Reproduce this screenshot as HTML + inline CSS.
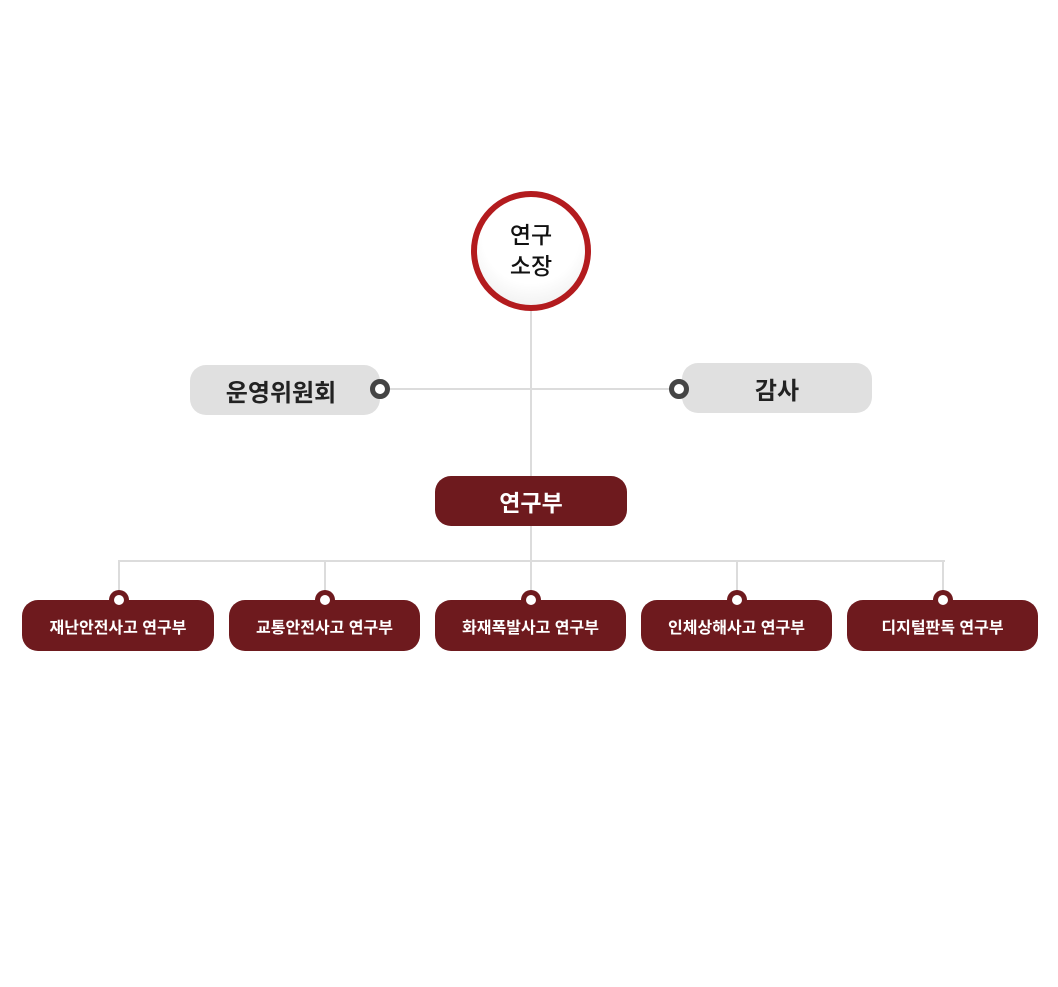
<!DOCTYPE html>
<html><head><meta charset="utf-8"><style>
html,body{margin:0;padding:0;background:#fff;}
body{width:1058px;height:987px;position:relative;overflow:hidden;font-family:"Liberation Sans","Noto Sans CJK KR","NanumGothic",sans-serif;}
.a{position:absolute;box-sizing:border-box;}
.line{position:absolute;background:#dcdcdc;}
.circle{left:471px;top:191px;width:120px;height:120px;border-radius:50%;border:6px solid #b31b1e;background:radial-gradient(circle at 50% 35%,#fff 55%,#e8e8e8 100%);display:flex;align-items:center;justify-content:center;text-align:center;font-size:23px;line-height:31px;color:#111;font-weight:500;}
.gray{background:#e0e0e0;border-radius:16px;height:50px;display:flex;align-items:center;justify-content:center;font-size:24px;font-weight:bold;color:#222;}
.ring{width:20px;height:20px;border-radius:50%;border:5px solid #444;background:#fff;}
.red{background:#6e1a1e;border-radius:16px;color:#fff;display:flex;align-items:center;justify-content:center;font-weight:bold;}
.dot{width:20px;height:20px;border-radius:50%;background:#6e1a1e;}
.dot::after{content:"";position:absolute;left:5px;top:5px;width:10px;height:10px;border-radius:50%;background:#fff;}
</style></head><body>
<div class="line" style="left:530px;top:311px;width:2px;height:250px;"></div>
<div class="line" style="left:380px;top:388px;width:300px;height:2px;"></div>
<div class="line" style="left:119px;top:560px;width:826px;height:2px;"></div>
<div class="line" style="left:118px;top:560px;width:2px;height:40px;"></div>
<div class="line" style="left:324px;top:560px;width:2px;height:40px;"></div>
<div class="line" style="left:530px;top:560px;width:2px;height:40px;"></div>
<div class="line" style="left:736px;top:560px;width:2px;height:40px;"></div>
<div class="line" style="left:942px;top:560px;width:2px;height:40px;"></div>

<div class="a circle">연구<br>소장</div>

<div class="a gray" style="left:190px;top:365px;width:190px;padding-right:8px;">운영위원회</div>
<div class="a gray" style="left:682px;top:363px;width:190px;">감사</div>
<div class="a ring" style="left:370px;top:379px;"></div>
<div class="a ring" style="left:669px;top:379px;"></div>

<div class="a red" style="left:435px;top:476px;width:192px;height:50px;font-size:23px;">연구부</div>

<div class="a red" style="left:22px;top:600px;width:192px;height:51px;font-size:16px;">재난안전사고 연구부</div>
<div class="a red" style="left:229px;top:600px;width:191px;height:51px;font-size:16px;">교통안전사고 연구부</div>
<div class="a red" style="left:435px;top:600px;width:191px;height:51px;font-size:16px;">화재폭발사고 연구부</div>
<div class="a red" style="left:641px;top:600px;width:191px;height:51px;font-size:16px;">인체상해사고 연구부</div>
<div class="a red" style="left:847px;top:600px;width:191px;height:51px;font-size:16px;">디지털판독 연구부</div>

<div class="a dot" style="left:109px;top:590px;"></div>
<div class="a dot" style="left:315px;top:590px;"></div>
<div class="a dot" style="left:521px;top:590px;"></div>
<div class="a dot" style="left:727px;top:590px;"></div>
<div class="a dot" style="left:933px;top:590px;"></div>
</body></html>
